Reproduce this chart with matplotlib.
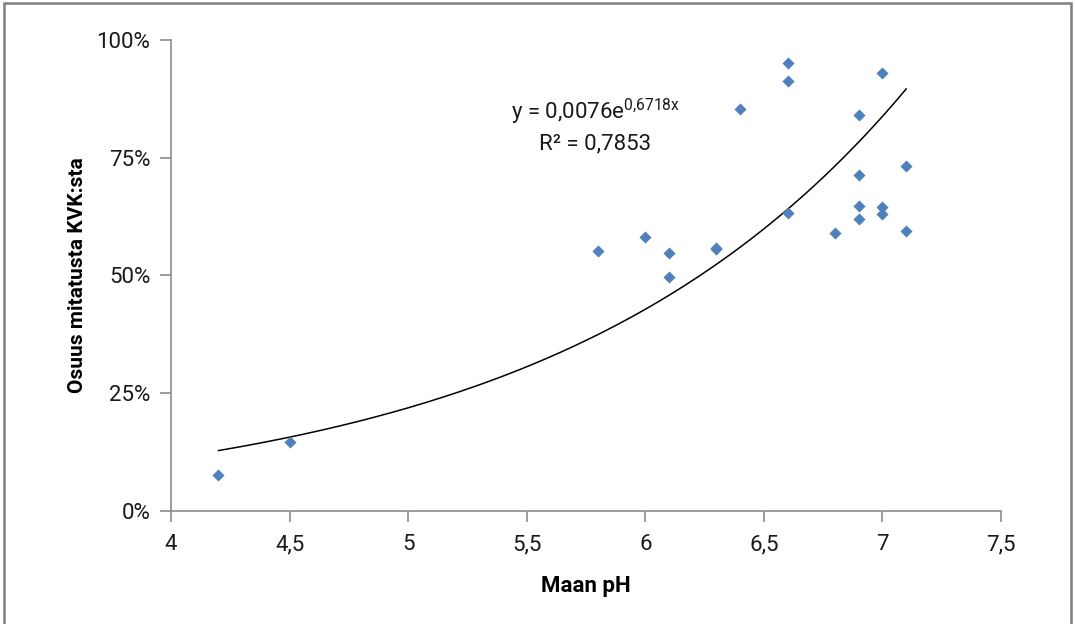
import numpy as np
import matplotlib
matplotlib.use("Agg")
import matplotlib.pyplot as plt
from matplotlib.patches import Rectangle
from matplotlib.ticker import FuncFormatter

plt.rcParams['font.family'] = ['Roboto', 'DejaVu Sans']
plt.rcParams['mathtext.fontset'] = 'custom'
plt.rcParams['mathtext.rm'] = 'Roboto'
plt.rcParams['mathtext.default'] = 'regular'

# maan pH ja osuus mitatusta KVK:sta
ph = [4.2, 4.5, 5.8, 6.0, 6.1, 6.1, 6.3, 6.3, 6.4, 6.6, 6.6, 6.6,
      6.8, 6.9, 6.9, 6.9, 6.9, 7.0, 7.0, 7.0, 7.1, 7.1]
osuus = [0.075, 0.145, 0.551, 0.581, 0.547, 0.496, 0.556, 0.558, 0.853, 0.952, 0.913, 0.632,
         0.589, 0.841, 0.713, 0.647, 0.619, 0.930, 0.645, 0.631, 0.733, 0.594]

# eksponentiaalinen trendiviiva
a = 0.0076
b = 0.6718
r2 = 0.7853

fig = plt.figure(figsize=(10.75, 6.24), dpi=100)
ax = fig.add_axes([0.1591, 0.1816, 0.7721, 0.7543])

ax.scatter(ph, osuus, marker='D', s=38, color='#4F81BD', zorder=3, linewidths=0)

xs = np.linspace(min(ph), max(ph), 200)
ax.plot(xs, a * np.exp(b * xs), color='black', lw=1.1, zorder=2)

ax.set_xlim(4, 7.5)
ax.set_ylim(0, 1)
ax.set_xticks(np.arange(4, 7.51, 0.5))
ax.set_yticks([0, 0.25, 0.5, 0.75, 1.0])
ax.xaxis.set_major_formatter(FuncFormatter(lambda v, p: ('%g' % v).replace('.', ',')))
ax.yaxis.set_major_formatter(FuncFormatter(lambda v, p: '%d%%' % round(v * 100)))

for s in ['top', 'right']:
    ax.spines[s].set_visible(False)
for s in ['left', 'bottom']:
    ax.spines[s].set_color('#8c8c8c')
    ax.spines[s].set_linewidth(1.2)
ax.tick_params(axis='both', colors='#8c8c8c', length=8, width=1.2,
               labelcolor='#1a1a1a', labelsize=16)
ax.tick_params(axis='x', pad=9)
ax.tick_params(axis='y', pad=7)

ax.set_xlabel('Maan pH', fontsize=16, fontweight='bold', labelpad=14)
ax.set_ylabel('Osuus mitatusta KVK:sta', fontsize=15, fontweight='bold', labelpad=7)

ax.text(5.79, 0.832, 'y = ' + ('%g' % a).replace('.', ',') + 'e$^{0{,}6718x}$',
        fontsize=16, ha='center', va='baseline', color='#1a1a1a')
ax.text(5.79, 0.768, 'R\u00b2 = ' + ('%g' % r2).replace('.', ','), fontsize=16,
        ha='center', va='baseline', color='#1a1a1a')

# kehys kuvan ympärillä
fig.patches.append(Rectangle((4 / 1075, -0.05), 1067 / 1075, 1.05 - 3 / 624,
                             transform=fig.transFigure, fill=False,
                             edgecolor='#7f7f7f', lw=1.8))

fig.savefig('out.png', dpi=100)
